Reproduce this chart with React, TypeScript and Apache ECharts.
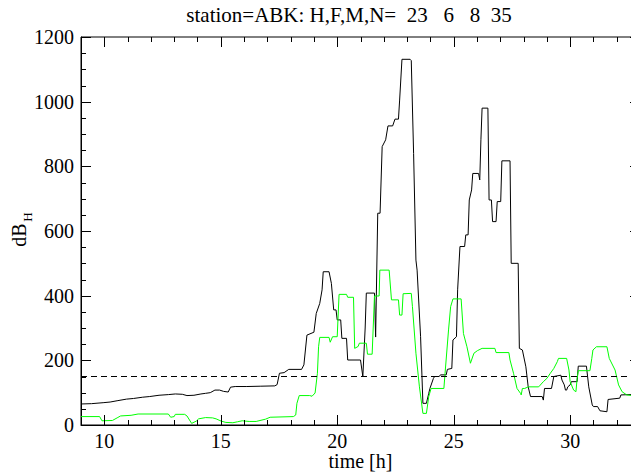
import React, { useEffect, useRef } from "react";
import * as echarts from "echarts";

// ---- data ----
const titleText = "station=ABK: H,F,M,N=  23   6   8  35";
const xName = "time [h]";
const yName = "dB";
const ySub = "H";

const timeMin = 9;
const timeMax = 33;
const valueMin = 0;
const valueMax = 1200;
const valueStep = 200;
const xMajorTicks = [10, 15, 20, 25, 30];
const xMinorTicks = [9, 10, 11, 12, 13, 14, 15, 16, 17, 18, 19, 20, 21, 22, 23, 24, 25, 26, 27, 28, 29, 30, 31, 32, 33];
const yMinorTicks = [0, 50, 100, 150, 200, 250, 300, 350, 400, 450, 500, 550, 600, 650, 700, 750, 800, 850, 900, 950, 1000, 1050, 1100, 1150, 1200];
const yMajorTicks = [0, 200, 400, 600, 800, 1000, 1200];
const thresholdValue = 150;

const blackTime = [
  9.0, 9.45, 9.95, 10.25, 10.55, 10.95, 11.25, 11.65, 11.95, 12.35, 12.75, 13.05, 13.35, 13.55, 13.85, 14.15,
  14.35, 14.55, 14.75, 14.95, 15.12, 15.32, 15.42, 15.62, 16.12, 16.72, 17.32, 17.42, 17.52, 17.72, 17.92, 18.47,
  18.57, 18.7, 19.0, 19.1, 19.25, 19.35, 19.4, 19.65, 19.75, 19.85, 19.95, 20.0, 20.15, 20.2, 20.4, 20.45,
  21.0, 21.1, 21.2, 21.25, 21.6, 21.65, 21.74, 21.84, 21.93, 22.08, 22.18, 22.38, 22.48, 22.63, 22.68, 22.78,
  23.13, 23.18, 23.28, 23.38, 23.43, 23.58, 23.68, 23.83, 23.93, 23.98, 24.13, 24.18, 24.38, 24.43, 24.68, 24.73,
  24.92, 24.97, 25.12, 25.17, 25.27, 25.47, 25.52, 25.62, 25.67, 25.77, 25.82, 26.07, 26.12, 26.17, 26.22, 26.47,
  26.52, 26.62, 26.67, 26.82, 26.87, 27.02, 27.07, 27.42, 27.47, 27.77, 27.82, 27.95, 28.1, 28.2, 28.3, 28.8,
  28.85, 28.9, 29.2, 29.3, 29.6, 29.65, 29.75, 29.8, 29.85, 29.9, 30.0, 30.05, 30.3, 30.35, 30.7, 30.8,
  30.95, 31.0, 31.18, 31.28, 31.58, 31.63, 32.13, 32.18, 33.0,
];
const blackValue = [
  65, 66, 69, 71, 75, 80, 82, 86, 88, 92, 94, 96, 95, 91, 92, 96,
  98, 100, 108, 108, 104, 102, 117, 119, 119, 120, 121, 125, 160, 162, 172, 172,
  186, 278, 287, 345, 376, 418, 474, 474, 438, 356, 356, 325, 325, 268, 268, 201,
  201, 150, 300, 408, 408, 272, 655, 655, 861, 882, 925, 925, 946, 946, 1005, 1131,
  1131, 1127, 840, 510, 479, 273, 67, 67, 98, 113, 144, 150, 150, 155, 155, 172,
  175, 263, 273, 418, 552, 552, 588, 588, 696, 727, 778, 778, 758, 882, 980, 980,
  696, 696, 629, 629, 691, 691, 817, 817, 500, 500, 237, 232, 180, 118, 88, 88,
  77, 113, 113, 150, 154, 139, 124, 108, 108, 118, 124, 134, 134, 182, 182, 118,
  62, 57, 57, 44, 41, 79, 83, 93, 95,
];

const greenTime = [
  9.0, 9.8, 9.9, 10.35, 10.55, 10.7, 11.15, 11.45, 12.75, 12.85, 13.0, 13.05, 13.45, 13.55, 13.75, 13.95,
  14.05, 14.35, 14.65, 14.8, 15.02, 15.22, 15.52, 15.72, 15.92, 16.22, 16.52, 16.92, 17.12, 18.12, 18.22, 18.27,
  18.37, 18.82, 18.92, 19.05, 19.15, 19.2, 19.25, 19.65, 19.7, 19.8, 20.0, 20.08, 20.4, 20.45, 20.7, 20.75,
  20.9, 20.95, 21.25, 21.3, 21.5, 21.6, 21.8, 21.83, 22.23, 22.33, 22.63, 22.68, 22.78, 22.83, 23.18, 23.23,
  23.38, 23.53, 23.68, 23.83, 23.93, 24.03, 24.58, 24.63, 24.78, 24.87, 24.97, 25.32, 25.42, 25.57, 25.72, 25.87,
  26.02, 26.22, 26.77, 26.82, 27.37, 27.42, 27.57, 27.72, 27.87, 27.9, 27.95, 28.05, 28.2, 28.65, 28.85, 29.0,
  29.15, 29.3, 29.45, 29.5, 29.85, 29.95, 30.0, 30.15, 30.25, 30.3, 30.35, 30.85, 30.93, 30.98, 31.13, 31.58,
  31.68, 31.93, 32.08, 32.23, 32.43, 33.0,
];
const greenValue = [
  26, 26, 13, 14, 22, 28, 30, 34, 34, 24, 26, 33, 33, 28, 5, 12,
  19, 23, 22, 19, 12, 8, 7, 10, 13, 11, 11, 18, 24, 26, 31, 67,
  91, 91, 89, 99, 160, 242, 271, 271, 256, 273, 273, 404, 404, 395, 395, 237,
  243, 253, 253, 219, 219, 399, 399, 479, 479, 387, 387, 340, 340, 406, 407, 366,
  222, 118, 36, 36, 88, 113, 113, 160, 294, 366, 390, 390, 283, 242, 191, 222,
  230, 237, 237, 224, 224, 201, 160, 113, 98, 93, 113, 113, 118, 118, 134, 144,
  160, 175, 196, 206, 206, 170, 134, 108, 103, 144, 168, 168, 206, 232, 242, 242,
  206, 170, 124, 103, 93, 88,
];

const FONT = "Liberation Serif";

const crisp = (v: number) => Math.round(v) + 0.5;

export default function App() {
  const ref = useRef<HTMLDivElement>(null);

  useEffect(() => {
    if (!ref.current) return;
    const chart = echarts.init(ref.current, null, { renderer: "svg" });

    const blackData = blackTime.map((t, i) => [t, blackValue[i]]);
    const greenData = greenTime.map((t, i) => [t, greenValue[i]]);
    const dashData = [
      [timeMin, thresholdValue],
      [timeMax, thresholdValue],
    ];

    const lineC = { color: "#000", width: 1 };
    const labelStyle = { color: "#000", fontFamily: FONT, fontSize: 20, lineHeight: 20 };

    const textGraphics: any[] = [
      {
        type: "text",
        x: 349,
        y: 15,
        style: {
          text: titleText,
          fill: "#000",
          font: `21px "${FONT}"`,
          align: "center",
          verticalAlign: "middle",
        },
      },
      {
        type: "text",
        x: 19,
        y: 235,
        rotation: Math.PI / 2,
        style: {
          text: yName,
          fill: "#000",
          font: `20px "${FONT}"`,
          align: "center",
          verticalAlign: "middle",
        },
      },
      {
        type: "text",
        x: 27,
        y: 217,
        rotation: Math.PI / 2,
        style: {
          text: ySub,
          fill: "#000",
          font: `13px "${FONT}"`,
          align: "center",
          verticalAlign: "middle",
        },
      },
    ];

    chart.setOption({
      animation: false,
      backgroundColor: "#fff",
      grid: {
        left: 81,
        top: 37,
        width: 559,
        height: 388,
        show: true,
        borderColor: "#000",
        borderWidth: 1,
        backgroundColor: "transparent",
        containLabel: false,
        outerBoundsMode: "none",
      },
      xAxis: {
        type: "value",
        position: "bottom",
        min: timeMin,
        max: timeMax,
        name: xName,
        nameLocation: "middle",
        nameGap: 26,
        nameMoveOverlap: false,
        nameTextStyle: { ...labelStyle },
        axisLine: { show: true, onZero: false, lineStyle: lineC },
        axisTick: { show: false },
        axisLabel: { show: true, customValues: xMajorTicks, margin: 6, ...labelStyle },
        splitLine: { show: false },
      },
      yAxis: {
        type: "value",
        position: "left",
        min: valueMin,
        max: valueMax,
        interval: valueStep,
        axisLine: { show: true, onZero: false, lineStyle: lineC },
        axisTick: { show: false },
        axisLabel: {
          show: true,
          margin: 7,
          formatter: (v: number) => String(v),
          ...labelStyle,
        },
        splitLine: { show: false },
      },
      graphic: textGraphics,
      series: [
        {
          type: "line",
          data: blackData,
          showSymbol: false,
          symbol: "none",
          silent: true,
          lineStyle: { color: "#000", width: 1 },
          z: 2,
        },
        {
          type: "line",
          data: greenData,
          showSymbol: false,
          symbol: "none",
          silent: true,
          lineStyle: { color: "#00ff00", width: 1 },
          z: 3,
        },
        {
          type: "line",
          data: dashData,
          showSymbol: false,
          symbol: "none",
          silent: true,
          lineStyle: { color: "#000", width: 1, type: [6, 4] },
          z: 4,
        },
      ],
    });

    // Inward tick marks on all four sides, placed through the chart's own scales.
    const tickLines: any[] = [];
    const addLine = (x1: number, y1: number, x2: number, y2: number) =>
      tickLines.push({
        type: "line",
        z: 100,
        silent: true,
        shape: { x1, y1, x2, y2 },
        style: { stroke: "#000", lineWidth: 1 },
      });
    xMinorTicks.forEach((t) => {
      const len = xMajorTicks.includes(t) ? 10 : 5;
      const pb = chart.convertToPixel({ gridIndex: 0 }, [t, valueMin]) as number[];
      const pt = chart.convertToPixel({ gridIndex: 0 }, [t, valueMax]) as number[];
      if (!pb || !pt) return;
      const x = crisp(pb[0]);
      addLine(x, pb[1], x, pb[1] - len);
      addLine(x, pt[1], x, pt[1] + len);
    });
    yMinorTicks.forEach((v) => {
      const len = yMajorTicks.includes(v) ? 10 : 5;
      const pl = chart.convertToPixel({ gridIndex: 0 }, [timeMin, v]) as number[];
      const pr = chart.convertToPixel({ gridIndex: 0 }, [timeMax, v]) as number[];
      if (!pl || !pr) return;
      const y = crisp(pl[1]);
      addLine(pl[0], y, pl[0] + len, y);
      addLine(pr[0], y, pr[0] - len, y);
    });
    chart.setOption({ graphic: [...textGraphics, ...tickLines] });

    return () => chart.dispose();
  }, []);

  return (
    <div
      ref={ref}
      style={{ position: "absolute", left: 0, top: 0, width: 631, height: 472 }}
    />
  );
}
